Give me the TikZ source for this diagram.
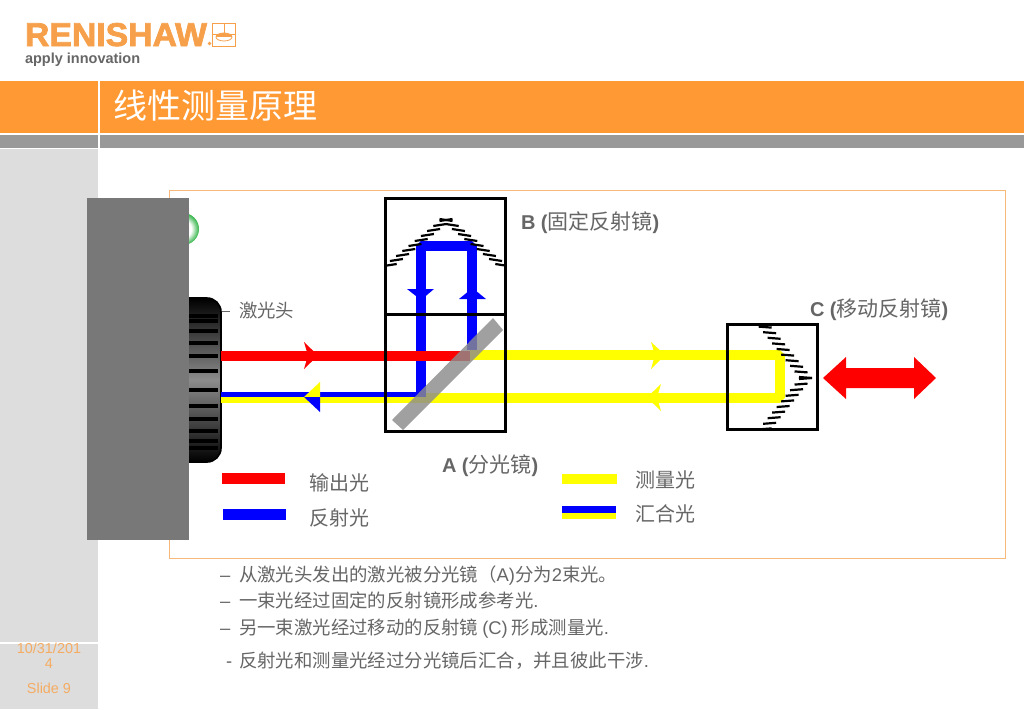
\documentclass[tikz,border=0pt]{standalone}
\usepackage{fontspec}
\setmainfont{Liberation Sans}
\newfontfamily\cjk{Noto Sans CJK SC}
\newfontfamily\logofont[FakeBold=2.2]{Liberation Sans Bold}
\definecolor{orangeband}{HTML}{FF9933}
\definecolor{logoorange}{HTML}{F7A04B}
\definecolor{framec}{HTML}{F6B97A}
\definecolor{footc}{HTML}{F5AC62}
\definecolor{bandgray}{HTML}{999999}
\definecolor{sidegray}{HTML}{DDDDDD}
\definecolor{txtgray}{HTML}{666666}
\definecolor{beamblue}{HTML}{0000FF}
\definecolor{beamyellow}{HTML}{FFFF00}
\definecolor{beamred}{HTML}{FF0000}
\definecolor{lampgreen}{HTML}{35B54A}
\pgfdeclareradialshading{lampshade}{\pgfpoint{0bp}{0bp}}{color(0bp)=(white); color(13bp)=(white); color(21bp)=(lampgreen!70); color(25bp)=(lampgreen); color(50bp)=(lampgreen)}
\tikzset{
  every node/.style={inner sep=0pt,outer sep=0pt},
  lbl/.style={text=txtgray,font=\fontsize{18.4}{22}\selectfont\cjk,anchor=base west},
  boldlbl/.style={text=txtgray,font=\fontsize{20}{22}\selectfont\bfseries,anchor=base west},
  legend/.style={text=txtgray,font=\fontsize{20}{24}\selectfont\cjk,anchor=west},
  foot/.style={text=footc,font=\fontsize{14.4}{16}\selectfont,anchor=center},
  boxline/.style={draw=black,line width=3pt},
  hatchline/.style={black,line width=2.2pt},
  beam/.style={line width=10.5pt,line join=bevel},
}
\newcommand{\lcjk}[1]{{\cjk\mdseries\fontsize{21}{22}\selectfont #1}}
\begin{document}
\begin{tikzpicture}[x=1pt,y=-1pt]
\useasboundingbox (0,0) rectangle (1024,709);
\fill[white] (0,0) rectangle (1024,709);
% header bands
\fill[orangeband] (0,81) rectangle (1024,133);
\fill[bandgray] (0,135) rectangle (1024,148);
\fill[white] (98,81) rectangle (100,148);
\fill[sidegray] (0,149) rectangle (98,709);
\fill[white] (0,642) rectangle (98,644);
% logo
\node[anchor=base west] (logo) at (25,46) {\resizebox{182pt}{23pt}{\textcolor{logoorange}{\logofont RENISHAW}}};
\draw[logoorange,line width=.8pt] (212,23) rectangle (235,46);
\draw[logoorange,line width=.8pt] (212,34) -- (235,34) (224,23) -- (224,34);
\draw[logoorange,line width=.8pt] (224,37) ellipse (8pt and 4pt);
\fill[logoorange] (216,37) arc (180:360:8pt and -4pt) -- cycle;
\fill[logoorange] (209.5,43.5) circle (1.8pt);
\node[anchor=base west,text=txtgray,font=\fontsize{14.5}{16}\selectfont\bfseries] (tag) at (25,63.5) {apply innovation};
\node[anchor=west,text=white,font=\fontsize{34}{38}\selectfont\cjk] (title) at (113,106) {线性测量原理};
% frame
\draw[framec,line width=1pt] (169.5,190.5) rectangle (1005,558);
% green lamp
\shade[shading=lampshade] (183,229) circle (16pt);
% laser head
\draw[black,line width=1.6pt,rounded corners=14pt,top color=black,bottom color=black,middle color=black!45] (160,298) -- (221,298) -- (221,462) -- (160,462) -- cycle;
\foreach \yy in {316,321,331,343,356,371,390,406,419,431,441,448}
  \fill[black] (189,\yy-1.6) rectangle (218,\yy+1.6);
% grey block
\fill[black!53] (87,198) rectangle (189,540);
\draw[txtgray,line width=1pt] (222,311) -- (230,311);
\node[lbl] (head) at (239,317) {激光头};
% yellow beam (measurement)
\draw[beam,beamyellow] (221,398) -- (780,398) -- (780,355) -- (470,355);
% blue beam
\fill[beamblue] (221,392) rectangle (426,397);
\draw[beam,beamblue] (421,397) -- (421,246) -- (472,246) -- (472,350);
% red
\fill[beamred] (221,350.5) rectangle (470,361);
% beam arrows
\fill[beamred] (304,342) -- (318,355.5) -- (304,369) -- (308,355.5) -- cycle;
\fill[beamyellow] (651,342) -- (665,355) -- (651,369) -- (655,355) -- cycle;
\fill[beamyellow] (661,384) -- (647,397.5) -- (661,411) -- (657,397.5) -- cycle;
\fill[beamyellow] (320,382) -- (304,397) -- (320,397) -- cycle;
\fill[beamblue] (320,412) -- (304,397) -- (320,397) -- cycle;
\fill[beamblue] (407,289) -- (434,289) -- (421,300) -- cycle;
\fill[beamblue] (459,299) -- (486,299) -- (472.5,288) -- cycle;
% splitter
\fill[black!45,opacity=.82] (392,420) -- (403,430) -- (503,330) -- (493,318) -- cycle;
% boxes
\draw[boxline] (385,198) rectangle (505,431);
\draw[boxline] (385,314) -- (505,314);
\draw[boxline] (727.5,324.5) rectangle (817,429);
% fixed mirror hatching
\begin{scope}
\clip (386,199) rectangle (504,313);
\foreach \i in {0,...,9}{
  \pgfmathsetmacro{\yy}{220+\i*5.0}
  \pgfmathsetmacro{\dx}{(\yy-220)*1.24}
  \draw[hatchline] (446-\dx-6.5,\yy+1) -- (446-\dx+6.5,\yy-1);
  \draw[hatchline] (446+\dx-6.5,\yy-1) -- (446+\dx+6.5,\yy+1);
}
\end{scope}
% moving mirror hatching
\foreach \i in {0,...,9}{
  \pgfmathsetmacro{\dy}{\i*5.6}
  \pgfmathsetmacro{\xr}{812-\dy*0.8}
  \draw[hatchline] (\xr-13,378-\dy-1) -- (\xr,378-\dy);
  \draw[hatchline] (\xr-13,378+\dy+1) -- (\xr,378+\dy);
}
% double arrow
\fill[beamred] (823,378) -- (846,357) -- (846,368) -- (914,368) -- (914,357) -- (936,378) -- (914,399) -- (914,388) -- (846,388) -- (846,399) -- cycle;
% labels
\node[boldlbl] (lb) at (521,229) {B (\lcjk{固定反射镜})};
\node[boldlbl] (lc) at (810,316) {C (\lcjk{移动反射镜})};
\node[boldlbl] (la) at (442,472) {A (\lcjk{分光镜})};
% legend
\fill[beamred] (222,473) rectangle (285,484);
\fill[beamblue] (223,509) rectangle (286,520);
\fill[beamyellow] (562,474) rectangle (617,484);
\fill[beamyellow] (562,512) rectangle (616,519);
\fill[beamblue] (562,506) rectangle (616,512.5);
\node[legend] (l1) at (309,483) {输出光};
\node[legend] (l2) at (309,518) {反射光};
\node[legend] (l3) at (635,480) {测量光};
\node[legend] (l4) at (635,514) {汇合光};
% bullets
\node[lbl] (d1) at (220,581) {\rmfamily –};
\node[lbl] (d2) at (220,607) {\rmfamily –};
\node[lbl] (d3) at (220,634) {\rmfamily –};
\node[lbl] (d4) at (226,667) {\rmfamily -};
\node[lbl] (b1) at (239,581) {从激光头发出的激光被分光镜（{\rmfamily A)}分为{\rmfamily 2}束光。};
\node[lbl] (b2) at (239,607) {一束光经过固定的反射镜形成参考光{\rmfamily .}};
\node[lbl] (b3) at (239,634) {另一束激光经过移动的反射镜 {\rmfamily (C)} 形成测量光{\rmfamily .}};
\node[lbl] (b4) at (239,667) {反射光和测量光经过分光镜后汇合，并且彼此干涉{\rmfamily .}};
% footer
\node[foot] (f1) at (49,648) {10/31/201};
\node[foot] (f2) at (49,664) {4};
\node[foot] (f3) at (49,688) {Slide 9};
\end{tikzpicture}
\end{document}
